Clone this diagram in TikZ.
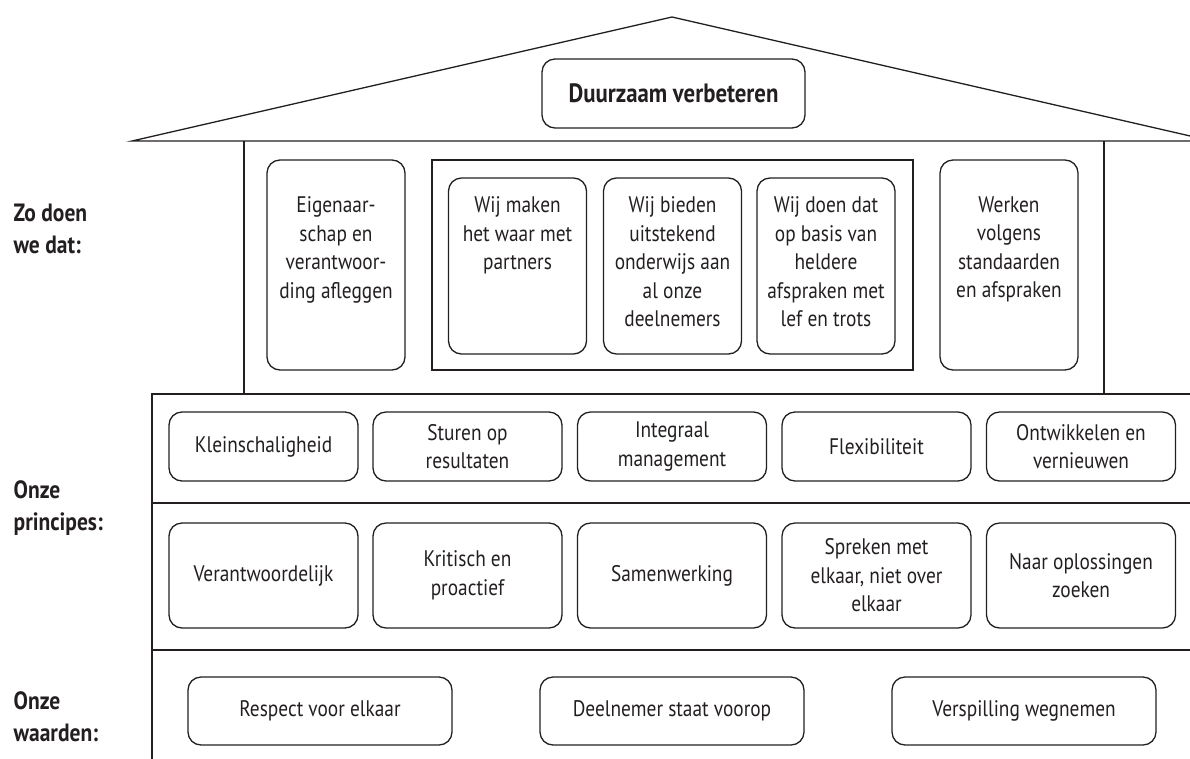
\documentclass[tikz,border=0pt]{standalone}
\usepackage{fontspec}
\setmainfont{PT Sans}[FakeStretch=0.86]
\definecolor{ink}{HTML}{231F20}
\begin{document}
\begin{tikzpicture}[x=1pt,y=-1pt,
  line width=1.3pt, draw=ink,
  rbox/.style={draw=ink, rounded corners=13pt, inner sep=0pt, line width=1.3pt},
  ubox/.style={rbox, minimum width=138pt, minimum height=210pt},
  wbox/.style={rbox, minimum width=138pt, minimum height=176pt},
  pbox/.style={rbox, minimum width=189pt, minimum height=69pt, txt},
  qbox/.style={rbox, minimum width=189pt, minimum height=105pt, txt},
  vbox/.style={rbox, minimum width=264pt, minimum height=68pt, txt},
  txt/.style={align=center, font=\fontsize{22.5}{28.5}\selectfont, text=ink},
  utxt/.style={txt, anchor=north, inner sep=0pt},
  lbl/.style={align=left, anchor=north west, inner sep=0pt, text=ink,
    font=\bfseries\fontsize{25}{32}\selectfont}]
\useasboundingbox (0,0) rectangle (1190,758);
\clip (0,0) rectangle (1190,758);
% roof
\coordinate (rl) at (132,141);
\coordinate (ra) at (672,17);
\coordinate (rr) at (1212,141);
\draw[line join=miter] (rl) -- (ra) -- (rr) -- cycle;
\node[rbox, minimum width=263pt, minimum height=69pt, txt,
  font=\bfseries\fontsize{26.5}{30}\selectfont] (top) at (673.5,93.5) {Duurzaam verbeteren};
% upper walls
\coordinate (wl1) at (244,141); \coordinate (wl2) at (244,394);
\coordinate (wr1) at (1104,141); \coordinate (wr2) at (1104,394);
\draw (wl1) -- (wl2);
\draw (wr1) -- (wr2);
% lower body
\coordinate (b0) at (152,394); \coordinate (b0r) at (1200,394);
\coordinate (b1) at (152,503); \coordinate (b1r) at (1200,503);
\coordinate (b2) at (152,650); \coordinate (b2r) at (1200,650);
\coordinate (b3) at (152,760);
\draw (b0r) -- (b0) -- (b3);
\draw (b1) -- (b1r);
\draw (b2) -- (b2r);
% upper section boxes
\node[draw=ink, line width=1.3pt, minimum width=481pt, minimum height=210pt, inner sep=0pt] (inner) at (672.5,265) {};
\node[ubox] (eig) at (336,265) {};
\node[ubox] (wrk) at (1009,265) {};
\node[wbox] (w1) at (517.5,266) {};
\node[wbox] (w2) at (672.5,266) {};
\node[wbox] (w3) at (826,266) {};
\node[utxt] (teig) at (336,196) {Eigenaar-\\schap en\\verantwoor-\\ding afleggen};
\node[utxt] (tw1) at (517.5,196) {Wij maken\\het waar met\\partners};
\node[utxt] (tw2) at (672.5,196) {Wij bieden\\uitstekend\\onderwijs aan\\al onze\\deelnemers};
\node[utxt] (tw3) at (826,196) {Wij doen dat\\op basis van\\heldere\\afspraken met\\lef en trots};
\node[utxt] (twrk) at (1009,196) {Werken\\volgens\\standaarden\\en afspraken};
% principles row 1
\node[pbox] (p1) at (263.5,446.5) {Kleinschaligheid};
\node[pbox] (p2) at (467.5,446.5) {Sturen op\\resultaten};
\node[pbox] (p3) at (672,446.5) {Integraal\\management};
\node[pbox] (p4) at (876.5,446.5) {Flexibiliteit};
\node[pbox] (p5) at (1081,446.5) {Ontwikkelen en\\vernieuwen};
% principles row 2
\node[qbox] (q1) at (263.5,575.5) {Verantwoordelijk};
\node[qbox] (q2) at (467.5,575.5) {Kritisch en\\proactief};
\node[qbox] (q3) at (672,575.5) {Samenwerking};
\node[qbox] (q4) at (876.5,575.5) {Spreken met\\elkaar, niet over\\elkaar};
\node[qbox] (q5) at (1081,575.5) {Naar oplossingen\\zoeken};
% values
\node[vbox] (v1) at (320,711) {Respect voor elkaar};
\node[vbox] (v2) at (672,711) {Deelnemer staat voorop};
\node[vbox] (v3) at (1024,711) {Verspilling wegnemen};
% labels
\node[lbl] (l1) at (13,203) {Zo doen\\we dat:};
\node[lbl] (l2) at (13,480) {Onze\\principes:};
\node[lbl] (l3) at (13,691) {Onze\\waarden:};
\end{tikzpicture}
\end{document}
